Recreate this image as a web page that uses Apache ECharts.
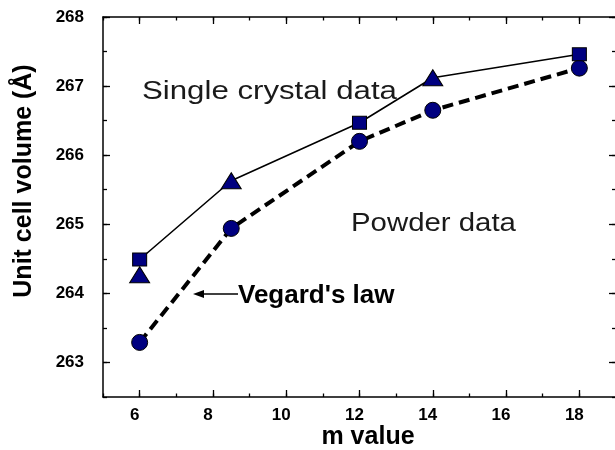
<!DOCTYPE html>
<html>
<head>
<meta charset="utf-8">
<script src="https://cdn.jsdelivr.net/npm/echarts@6/dist/echarts.min.js"></script>
<style>
  html, body { margin: 0; padding: 0; background: #ffffff; }
  #chart { width: 615px; height: 450px; }
</style>
</head>
<body>
<div id="chart"></div>
<script>
// m values (x) shared by both data sets
const mValues = [6, 8.5, 12, 14, 18];
// Single crystal unit cell volumes, joined by the solid line
const singleCrystal = [264.49, 265.63, 266.47, 267.12, 267.46];
const singleCrystalMarkers = ['square', 'triangle', 'square', 'triangle', 'square'];
// Second single crystal point at m = 6 (not on the line)
const extraPointX = [6];
const extraPointY = [264.27];
// Powder unit cell volumes, joined by the dashed line
const powder = [263.29, 264.94, 266.20, 266.65, 267.26];
// Tick positions
const xMajorTicks = [6, 8, 10, 12, 14, 16, 18];
const yMajorTicks = [263, 264, 265, 266, 267, 268];

const FONT = "'Liberation Sans', Arial, Helvetica, sans-serif";
const NAVY = '#000080';
const markerShapes = {
  square: { symbol: 'rect', size: [14, 13] },
  triangle: { symbol: 'triangle', size: [20, 16] },
  circle: { symbol: 'circle', size: 16 }
};
const markerStyle = { color: NAVY, borderColor: '#000000', borderWidth: 1, opacity: 1 };
const axisLineStyle = { color: '#000000', width: 1.5 };
const tickStyle = { color: '#000000', width: 1.3 };

function xAxisPair(position, withLabels) {
  return [
    {
      type: 'value', position: position, min: 5, max: 19, interval: 1,
      axisLine: { show: true, onZero: false, lineStyle: axisLineStyle },
      axisTick: { show: true, inside: true, length: 3.5, lineStyle: tickStyle },
      splitLine: { show: false },
      axisLabel: withLabels ? {
        show: true, margin: 10, fontSize: 17, fontWeight: 'bold', fontFamily: FONT, color: '#000',
        padding: [0, 10, 0, 0],
        formatter: v => (v % 2 === 0 ? String(v) : '')
      } : { show: false }
    },
    {
      type: 'value', position: position, min: 5, max: 19, interval: 1,
      axisLine: { show: false, onZero: false },
      axisTick: { show: true, inside: true, length: 7, customValues: xMajorTicks, lineStyle: tickStyle },
      splitLine: { show: false },
      axisLabel: { show: false }
    }
  ];
}

function yAxisPair(position, withLabels) {
  return [
    {
      type: 'value', position: position, min: 262.5, max: 268, interval: 0.5,
      axisLine: { show: true, onZero: false, lineStyle: axisLineStyle },
      axisTick: { show: true, inside: true, length: 4, lineStyle: tickStyle },
      splitLine: { show: false },
      axisLabel: withLabels ? {
        show: true, margin: 19, fontSize: 17, fontWeight: 'bold', fontFamily: FONT, color: '#000',
        formatter: v => (Number.isInteger(v) ? String(v) : '')
      } : { show: false }
    },
    {
      type: 'value', position: position, min: 262.5, max: 268, interval: 0.5,
      axisLine: { show: false, onZero: false },
      axisTick: { show: true, inside: true, length: 7, customValues: yMajorTicks, lineStyle: tickStyle },
      splitLine: { show: false },
      axisLabel: { show: false }
    }
  ];
}

const crystalData = mValues.map((m, i) => {
  const shape = markerShapes[singleCrystalMarkers[i]];
  return { value: [m, singleCrystal[i]], symbol: shape.symbol, symbolSize: shape.size };
});
const extraData = extraPointX.map((m, i) => [m, extraPointY[i]]);
const powderData = mValues.map((m, i) => [m, powder[i]]);

const chart = echarts.init(document.getElementById('chart'), null, { renderer: 'canvas' });
chart.setOption({
  animation: false,
  backgroundColor: '#ffffff',
  grid: { left: 103, right: -1, top: 17, bottom: 53, containLabel: false, outerBoundsMode: 'none' },
  xAxis: [...xAxisPair('bottom', true), ...xAxisPair('top', false)],
  yAxis: [...yAxisPair('left', true), ...yAxisPair('right', false)],
  series: [
    {
      name: 'Powder data', type: 'line', data: powderData, z: 2,
      symbol: markerShapes.circle.symbol, symbolSize: markerShapes.circle.size,
      lineStyle: { color: '#000000', width: 4, type: [11, 6], cap: 'butt' },
      itemStyle: markerStyle
    },
    {
      name: 'Single crystal data', type: 'line', data: crystalData, z: 3,
      lineStyle: { color: '#000000', width: 1.6 },
      itemStyle: markerStyle
    },
    {
      name: 'Single crystal (second)', type: 'scatter', data: extraData, z: 4,
      symbol: markerShapes.triangle.symbol, symbolSize: markerShapes.triangle.size,
      itemStyle: markerStyle
    }
  ],
  graphic: [
    {
      type: 'text', x: 142, y: 91.5, scaleX: 1.2, originX: 0, originY: 0,
      style: { text: 'Single crystal data', font: "26px " + FONT, fill: '#1a1a1a', align: 'left', verticalAlign: 'middle' }
    },
    {
      type: 'text', x: 351, y: 224, scaleX: 1.13, originX: 0, originY: 0,
      style: { text: 'Powder data', font: "26px " + FONT, fill: '#1a1a1a', align: 'left', verticalAlign: 'middle' }
    },
    {
      type: 'text', x: 238, y: 296,
      style: { text: "Vegard's law", font: "bold 26px " + FONT, fill: '#000', align: 'left', verticalAlign: 'middle' }
    },
    {
      type: 'line', shape: { x1: 202, y1: 294, x2: 238, y2: 294 },
      style: { stroke: '#000', lineWidth: 1.5 }
    },
    {
      type: 'polygon', shape: { points: [[193, 294], [204, 290], [204, 298]] },
      style: { fill: '#000' }
    },
    {
      type: 'text', x: 368, y: 437,
      style: { text: 'm value', font: "bold 25px " + FONT, fill: '#000', align: 'center', verticalAlign: 'middle' }
    },
    {
      type: 'text', x: 24, y: 181, rotation: Math.PI / 2,
      style: { text: 'Unit cell volume (Å)', font: "bold 25px " + FONT, fill: '#000', align: 'center', verticalAlign: 'middle' }
    }
  ]
});
</script>
</body>
</html>
